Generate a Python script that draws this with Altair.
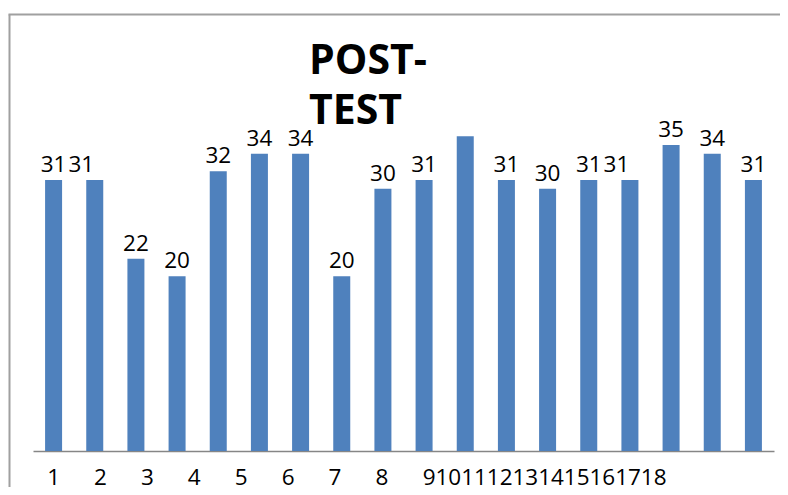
import altair as alt
import pandas as pd

# ---- data ----
bars = list(range(1, 19))
scores = [31, 31, 22, 20, 32, 34, 34, 20, 30, 31, 36, 31, 30, 31, 31, 35, 34, 31]
unlabelled = [11]          # bar whose value label is not shown
title_lines = ["POST-", "TEST"]

df = pd.DataFrame({"bar": bars, "score": scores})
df["label"] = ["" if b in unlabelled else str(s) for b, s in zip(bars, scores)]

FONT = "Open Sans"
BLUE = "#4f81bd"
FRAME = "#a0a0a0"

x_enc = alt.X(
    "bar:O",
    scale=alt.Scale(range=[24, 765], paddingInner=0.587, paddingOuter=0.2935),
    axis=alt.Axis(
        title=None,
        orient="bottom",
        domainColor="#868686",
        domainWidth=1.5,
        ticks=False,
        tickSize=0,
        labelFont=FONT,
        labelFontSize=22.5,
        labelColor="#000000",
        labelPadding=15,
        labelAngle=0,
        labelOverlap=False,
        labelAlign={"condition": {"test": "datum.value <= 8", "value": "center"}, "value": "right"},
        labelOffset={"condition": {"test": "datum.value <= 8", "expr": "5.73*(datum.value-1)"},
                     "expr": "192 - 15.49*datum.value"},
    ),
)
y_enc = alt.Y("score:Q", scale=alt.Scale(domain=[0, 50]), axis=None)

bar_layer = alt.Chart(df).mark_bar(color=BLUE).encode(x=x_enc, y=y_enc)

text_layer = alt.Chart(df).mark_text(
    font=FONT,
    fontSize=22.5,
    baseline="alphabetic",
    dy=-8,
    color="#000000",
    dx={"expr": "datum.bar == 2 || datum.bar == 15 ? -13.5 : 0"},
).encode(x=x_enc, y=y_enc, text="label:N")

main = alt.layer(bar_layer, text_layer)

# chart-area border (top and left edges) drawn as axis domain lines
frame_axis = dict(title=None, ticks=False, labels=False, grid=False,
                  domainColor=FRAME, domainWidth=2)
frame = alt.Chart(df).mark_point(opacity=0).encode(
    x=alt.X("score:Q", scale=alt.Scale(domain=[0, 40], range=[-1, 800]),
            axis=alt.Axis(orient="top", **frame_axis)),
    y=alt.Y("score:Q", scale=alt.Scale(domain=[0, 40], range=[520, 0]),
            axis=alt.Axis(orient="left", **frame_axis)),
)

chart = (
    alt.layer(main, frame)
    .resolve_scale(x="independent", y="independent")
    .properties(
        width=771,
        height=437,
        autosize=alt.AutoSizeParams(type="none"),
        padding={"left": 1, "top": 6, "right": 0, "bottom": 36},
        background="#ffffff",
        title=alt.TitleParams(
            text=title_lines,
            font=FONT,
            fontSize=41,
            fontWeight="bold",
            color="#000000",
            anchor="start",
            frame="group",
            baseline="top",
            lineHeight=50,
            offset=0,
            dx=300,
            dy=119,
        ),
    )
    .configure_view(stroke="#ffffff", strokeWidth=1)
)

chart.save("out.html", embed_options={"renderer": "svg", "actions": False})
